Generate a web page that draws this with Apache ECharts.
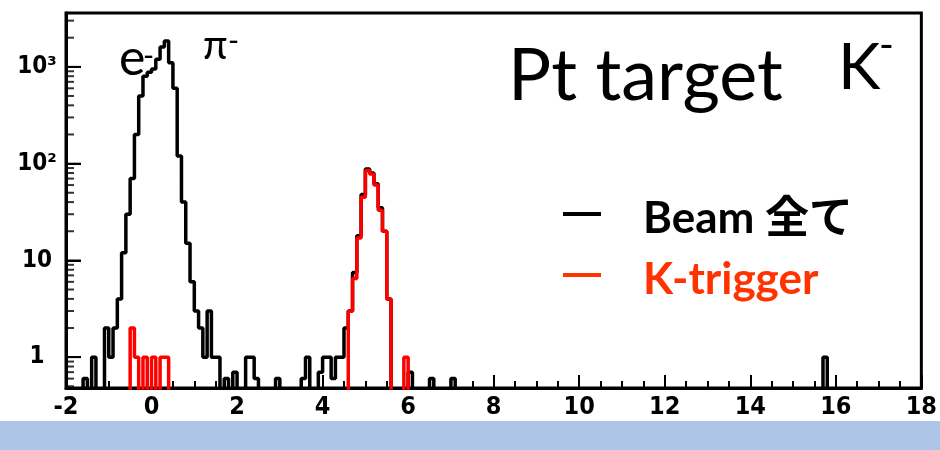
<!DOCTYPE html>
<html><head><meta charset="utf-8">
<script src="https://cdn.jsdelivr.net/npm/echarts@6/dist/echarts.min.js"></script>
<style>html,body{margin:0;padding:0;background:#fff}#c{width:940px;height:450px}</style>
</head><body><div id="c"></div><script>
// ---- data ----
const X_MIN = -2, X_MAX = 18, BIN_WIDTH = 0.1;
const Y_MIN = 0.48, Y_MAX = 3600;          // counts (log scale)
const yMajorTicks = [1, 10, 100, 1000];
const yMajorLabels = ['1', '10', '10²', '10³'];
const yMinorTicks = [0.5, 0.6, 0.7, 0.8, 0.9, 2, 3, 4, 5, 6, 7, 8, 9,
  20, 30, 40, 50, 60, 70, 80, 90, 200, 300, 400, 500, 600, 700, 800, 900, 2000, 3000];
const EMPTY = 0.3; // empty bins sit below the frame (log scale)
// [bin left edge, counts]
const beamAllBins = [
  [-1.6, 0.6], [-1.4, 1], [-1.1, 2], [-1.0, 1], [-0.9, 2], [-0.8, 4], [-0.7, 12],
  [-0.6, 30], [-0.5, 70], [-0.4, 200], [-0.3, 500], [-0.2, 800], [-0.1, 880],
  [0.0, 950], [0.1, 1200], [0.2, 1600], [0.3, 1850], [0.4, 1100], [0.5, 600],
  [0.6, 120], [0.7, 40], [0.8, 15], [0.9, 6], [1.0, 3], [1.1, 2], [1.2, 1],
  [1.3, 3], [1.4, 1], [1.5, 1], [1.7, 0.6], [1.9, 0.7], [2.2, 1], [2.3, 1],
  [2.4, 0.6], [2.9, 0.6], [3.5, 0.6], [3.6, 1], [3.9, 0.7], [4.0, 1], [4.1, 1],
  [4.2, 0.6], [4.3, 1], [4.4, 1], [4.5, 2], [4.6, 3], [4.7, 7.5], [4.8, 18],
  [4.9, 48], [5.0, 88], [5.1, 80], [5.2, 62], [5.3, 35], [5.4, 20], [5.5, 4],
  [6.0, 0.7], [6.5, 0.6], [7.0, 0.6], [15.7, 1]
];
const kTriggerBins = [
  [-0.5, 2], [-0.4, 1], [-0.2, 1], [0.0, 1], [0.2, 1], [0.3, 1],
  [4.6, 3], [4.7, 6.5], [4.8, 17], [4.9, 45], [5.0, 85], [5.1, 78], [5.2, 60],
  [5.3, 33], [5.4, 20], [5.5, 4], [5.9, 1]
];

const lg = v => Math.log10(v);
function histPoints(bins) {
  const n = Math.round((X_MAX - X_MIN) / BIN_WIDTH);
  const counts = new Array(n).fill(EMPTY);
  bins.forEach(([x, v]) => { counts[Math.round((x - X_MIN) / BIN_WIDTH)] = v; });
  const pts = counts.map((v, i) => [+(X_MIN + i * BIN_WIDTH).toFixed(2), lg(v)]);
  pts.push([X_MAX, lg(EMPTY)]);
  return pts;
}
// y-axis tick marks (ROOT style, inside the frame)
function tickSeries(values, len) {
  return {
    type: 'scatter', symbol: 'rect', symbolSize: [len, 2], symbolOffset: [len / 2, 0],
    itemStyle: { color: '#000' },
    data: values.map(v => [X_MIN, lg(v)])
  };
}

const axisFont = '"Liberation Sans Narrow", "DejaVu Sans Condensed", "Liberation Sans", sans-serif';
const textFont = 'Lato, "Noto Sans CJK JP", sans-serif';

const chart = echarts.init(document.getElementById('c'));
chart.setOption({
  animation: false,
  grid: { left: 66, right: 18, top: 13, bottom: 62, show: true, borderColor: '#000', borderWidth: 3 },
  xAxis: {
    type: 'value', min: X_MIN, max: X_MAX, interval: 2,
    axisLine: { show: true, onZero: false, lineStyle: { color: '#000', width: 3 } },
    axisTick: { show: true, inside: true, length: 13, lineStyle: { color: '#000', width: 2 } },
    minorTick: { show: true, splitNumber: 4, length: 7, lineStyle: { color: '#000', width: 2 } },
    splitLine: { show: false },
    axisLabel: {
      color: '#000', fontWeight: 'bold', fontSize: 25, fontFamily: axisFont, margin: 7,
      showMinLabel: true, showMaxLabel: true,
      formatter: v => (v < 0 ? '-' + (-v) : String(v))
    }
  },
  yAxis: {
    type: 'value', min: lg(Y_MIN), max: lg(Y_MAX),
    axisLine: { show: true, onZero: false, lineStyle: { color: '#000', width: 3 } },
    axisTick: { show: true, inside: true, length: 15, customValues: yMajorTicks.map(lg), lineStyle: { color: '#000', width: 2 } },
    splitLine: { show: false },
    axisLabel: {
      customValues: yMajorTicks.map(lg), color: '#000', fontWeight: 'bold', fontSize: 24, fontFamily: axisFont,
      align: 'center', margin: 29,
      formatter: v => yMajorLabels[Math.round(v)] || ''
    }
  },
  series: [{
    name: 'Beam 全て', type: 'line', step: 'end', symbol: 'none', clip: true,
    lineStyle: { color: '#000', width: 3.5 }, data: histPoints(beamAllBins)
  }, {
    name: 'K-trigger', type: 'line', step: 'end', symbol: 'none', clip: true,
    lineStyle: { color: '#ff0000', width: 3.5 }, data: histPoints(kTriggerBins)
  },
  tickSeries(yMajorTicks, 15),
  tickSeries(yMinorTicks, 8)],
  graphic: [
    { type: 'rect', left: 0, top: 421, shape: { width: 940, height: 29 }, style: { fill: '#adc6e8' }, z: 10 },
    { type: 'text', x: 119, y: 59, style: { text: 'e', font: '50px ' + textFont, fill: '#000', verticalAlign: 'middle' }, z: 10 },
    { type: 'text', x: 143, y: 56, style: { text: '-', font: '30px ' + textFont, fill: '#000', verticalAlign: 'middle' }, z: 10 },
    { type: 'text', x: 203, y: 46, style: { text: 'π', font: '40px ' + textFont, fill: '#000', verticalAlign: 'middle' }, z: 10 },
    { type: 'text', x: 228, y: 41, style: { text: '-', font: '30px ' + textFont, fill: '#000', verticalAlign: 'middle' }, z: 10 },
    { type: 'text', x: 508, y: 77, style: { text: 'Pt target', font: '72px ' + textFont, fill: '#000', verticalAlign: 'middle' }, z: 10 },
    { type: 'text', x: 838, y: 68, style: { text: 'K', font: '64px ' + textFont, fill: '#000', verticalAlign: 'middle' }, z: 10 },
    { type: 'text', x: 879, y: 46, style: { text: '-', font: '40px ' + textFont, fill: '#000', verticalAlign: 'middle' }, z: 10 },
    { type: 'rect', left: 563, top: 212, shape: { width: 38, height: 4 }, style: { fill: '#000' }, z: 10 },
    { type: 'rect', left: 563, top: 273, shape: { width: 38, height: 4 }, style: { fill: '#ff3300' }, z: 10 },
    { type: 'text', x: 643, y: 219, style: { text: 'Beam 全て', font: 'bold 44px ' + textFont, fill: '#000', verticalAlign: 'middle' }, z: 10 },
    { type: 'text', x: 643, y: 280, style: { text: 'K-trigger', font: 'bold 44px ' + textFont, fill: '#ff3300', verticalAlign: 'middle' }, z: 10 }
  ]
});
</script></body></html>
